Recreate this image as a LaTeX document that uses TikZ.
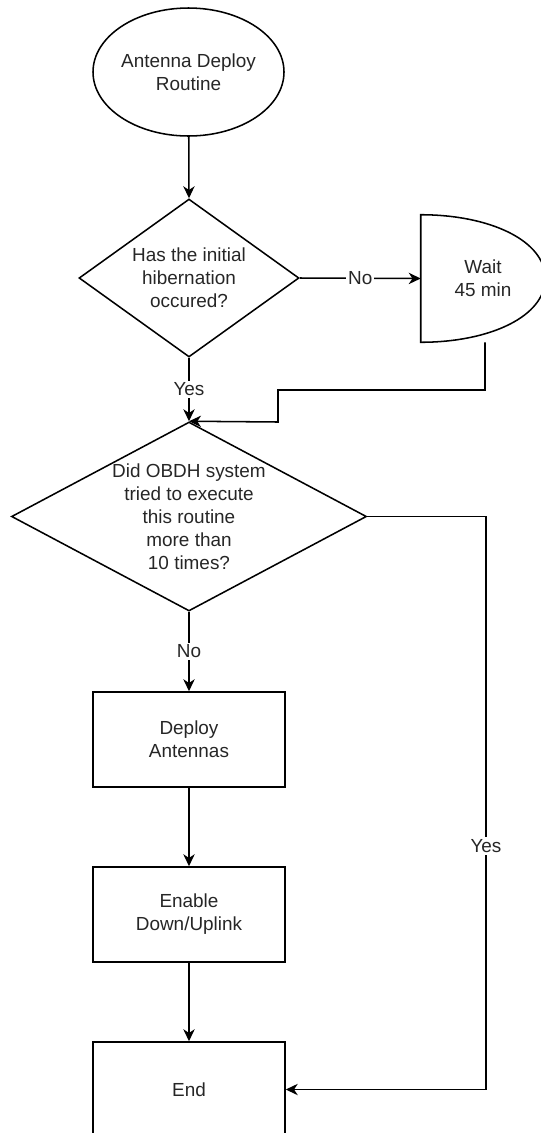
\documentclass[tikz,border=0pt]{standalone}
\usepackage{fontspec}
\setmainfont{Liberation Sans}
\usetikzlibrary{shapes.geometric,arrows.meta,calc}
\begin{document}
\begin{tikzpicture}[x=0.75pt,y=-0.75pt,
  txt/.style={font=\fontsize{14.2}{17.2}\selectfont, text=black!85, align=center},
  outline/.style={draw=black, line width=1.15pt},
  startbox/.style={outline, ellipse, minimum width=143.25pt, minimum height=96pt, inner sep=0pt},
  decision/.style={outline, diamond, inner sep=0pt},
  process/.style={outline, rectangle, minimum width=144pt, minimum height=71.25pt, inner sep=0pt},
  flow/.style={draw=black, line width=1.15pt, -{Stealth[length=9pt,width=8.5pt,inset=2.8pt]}},
  lbl/.style={txt, fill=white, inner sep=1.5pt}
]
\useasboundingbox (0,0) rectangle (540,1133);

% start
\node[startbox] (start) at (188.5,72) {};
\node[txt] at (start) {Antenna Deploy\\Routine};

% first decision
\node[decision, minimum width=165pt, minimum height=118.5pt] (d1) at (189,278) {};
\node[txt] at (d1) {Has the initial\\hibernation\\occured?};

% delay block
\node[rectangle, minimum width=93pt, minimum height=95.25pt, inner sep=0pt] (wait) at (483,278.5) {};
\draw[outline] (wait.north west)
  .. controls ($(wait.north west)+(69,0)$) and ($(wait.east)+(0,-38)$) .. (wait.east)
  .. controls ($(wait.east)+(0,38)$) and ($(wait.south west)+(69,0)$) .. (wait.south west)
  -- cycle;
\node[txt] at (wait) {Wait\\45 min};

% second decision
\node[decision, minimum width=266.25pt, minimum height=141.75pt] (d2) at (189,516.5) {};
\node[txt] at (d2) {Did OBDH system\\tried to execute\\this routine\\more than\\10 times?};

% process steps
\node[process] (deploy) at (189,739.5) {};
\node[txt] at (deploy) {Deploy\\Antennas};
\node[process] (enable) at (189,914.5) {};
\node[txt] at (enable) {Enable\\Down/Uplink};
\node[process] (end) at (189,1089.5) {};
\node[txt] at (end) {End};

% routing points
\coordinate (w1) at (485,390);
\coordinate (w2) at (278,390);
\coordinate (w3) at (278,422);
\coordinate (y1) at (486,516.5);
\coordinate (y2) at (486,1089.5);

% connectors
\draw[flow] (start) -- (d1.north);
\draw[flow] (d1.east) -- node[lbl] {No} (wait.west);
\draw[flow] (d1.south) -- node[lbl] {Yes} (d2.north);
\draw[flow] ($(wait.south)+(2,0)$) -- (w1) -- (w2) -- (w3) -- (d2.north);
\draw[flow] (d2.south) -- node[lbl] {No} (deploy.north);
\draw[flow] (deploy) -- (enable);
\draw[flow] (enable) -- (end);
\draw[flow] (d2.east) -- (y1) -- node[lbl, pos=0.575] {Yes} (y2) -- (end.east);
\end{tikzpicture}
\end{document}
